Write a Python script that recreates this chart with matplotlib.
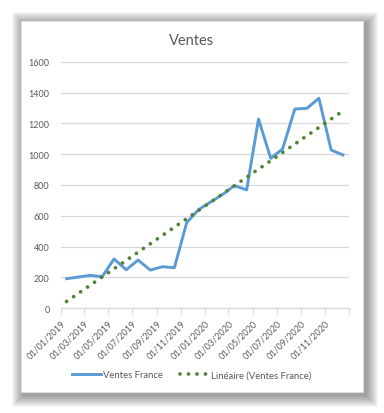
import numpy as np
import pandas as pd
import matplotlib
matplotlib.use("Agg")
import matplotlib.pyplot as plt
import matplotlib.dates as mdates
import matplotlib.transforms as mtransforms
from matplotlib.patches import Rectangle

plt.rcParams['font.family'] = ['Lato', 'DejaVu Sans']

# Monthly sales (one point per month, Jan 2019 -> Dec 2020)
months = ['2019-01', '2019-02', '2019-03', '2019-04', '2019-05', '2019-06',
          '2019-07', '2019-08', '2019-09', '2019-10', '2019-11', '2019-12',
          '2020-01', '2020-02', '2020-03', '2020-04', '2020-05', '2020-06',
          '2020-07', '2020-08', '2020-09', '2020-10', '2020-11', '2020-12']
ventes_france = [192, 203, 214, 205, 320, 250, 313, 248, 270, 263, 555, 640,
                 690, 740, 796, 768, 1228, 973, 1034, 1293, 1298, 1363, 1027, 995]

tick_dates = ['2019-01-01', '2019-03-01', '2019-05-01', '2019-07-01', '2019-09-01',
              '2019-11-01', '2020-01-01', '2020-03-01', '2020-05-01', '2020-07-01',
              '2020-09-01', '2020-11-01', '2021-01-01']
tick_labels = ['01/01/2019', '01/03/2019', '01/05/2019', '01/07/2019', '01/09/2019',
               '01/11/2019', '01/01/2020', '01/03/2020', '01/05/2020', '01/07/2020',
               '01/09/2020', '01/11/2020', '']

# points sit in the middle of each month
dates = pd.to_datetime(months) + pd.Timedelta(days=15)
x = mdates.date2num(dates)
y = np.array(ventes_france)

# linear trendline
coef = np.polyfit(x, y, 1)
trend = np.polyval(coef, x)

fig = plt.figure(figsize=(3.84, 4.14), dpi=100)
W, H = 384, 414

# chart box with soft shadow
bx0, by0, bx1, by1 = 20.7, 21.7, 363, 392.7
for i in range(12, 0, -1):
    off = 3
    fig.patches.append(Rectangle(((bx0 - i + off) / W, (H - by1 - i - off) / H),
                                 (bx1 - bx0 + 2 * i) / W, (by1 - by0 + 2 * i) / H,
                                 transform=fig.transFigure, facecolor='black',
                                 alpha=0.035, edgecolor='none', zorder=0))
fig.patches.append(Rectangle((bx0 / W, (H - by1) / H), (bx1 - bx0) / W, (by1 - by0) / H,
                             transform=fig.transFigure, facecolor='white',
                             edgecolor='#E4E4E4', linewidth=0.4, zorder=1))

ax = fig.add_axes([60.7 / W, (H - 309.3) / H, (349.3 - 60.7) / W, (309.3 - 62.7) / H])
ax.set_zorder(2)
ax.patch.set_alpha(0)

ax.plot(x, y, color='#5B9BD5', linewidth=2.1, solid_joinstyle='round',
        label='Ventes France', zorder=3)
ax.plot(x, trend, color='#548235', linewidth=2.7, linestyle=(0, (0.01, 2.25)),
        dash_capstyle='round', label='Linéaire (Ventes France)', zorder=4)

ax.set_ylim(0, 1600)
ax.set_yticks(range(0, 1601, 200))
ax.set_xlim(mdates.date2num(pd.Timestamp('2019-01-01')),
            mdates.date2num(pd.Timestamp('2021-01-01')))
ax.set_xticks(mdates.date2num(pd.to_datetime(tick_dates)))
ax.set_xticklabels(tick_labels, rotation=45, ha='right', rotation_mode='anchor')
shift = mtransforms.ScaledTranslation(0.07, -0.03, fig.dpi_scale_trans)
for lbl in ax.get_xticklabels():
    lbl.set_transform(lbl.get_transform() + shift)

ax.grid(axis='y', color='#D9D9D9', linewidth=0.9)
ax.set_axisbelow(True)
for s in ['left', 'right', 'top']:
    ax.spines[s].set_visible(False)
ax.spines['bottom'].set_color('#D9D9D9')
ax.spines['bottom'].set_linewidth(0.9)
ax.tick_params(axis='y', length=0, labelsize=6.5, labelcolor='#595959', pad=8)
ax.tick_params(axis='x', length=4, color='#D9D9D9', labelsize=6.5,
               labelcolor='#595959', pad=3)

fig.text(0.5, (H - 41) / H, 'Ventes', ha='center', va='center',
         fontsize=10.5, color='#595959')

fig.legend(loc='center', bbox_to_anchor=(0.5, (H - 376) / H), ncol=2, frameon=False,
           fontsize=6.8, labelcolor='#595959', handlelength=3.0,
           handletextpad=0.3, columnspacing=1.8)

fig.savefig('out.png', dpi=100, facecolor='white')
